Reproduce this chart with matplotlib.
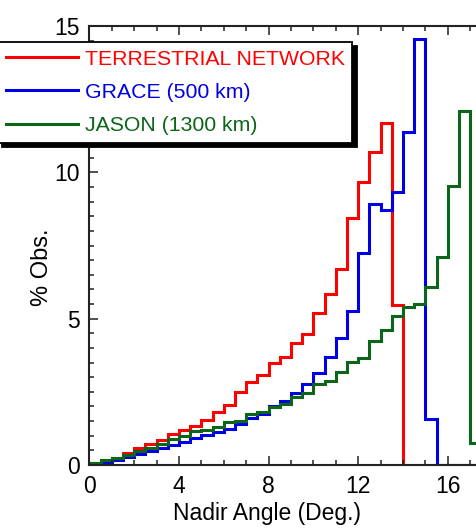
import numpy as np
import matplotlib
matplotlib.use('Agg')
import matplotlib.pyplot as plt
from matplotlib.ticker import MultipleLocator

plt.rcParams['font.family'] = 'Liberation Sans'

# percentage of observations per 0.5 deg nadir-angle bin, starting at 0 deg
bin_width = 0.5
terrestrial = [0.06, 0.15, 0.25, 0.40, 0.57, 0.71, 0.85, 1.07, 1.18, 1.32,
               1.54, 1.80, 2.05, 2.48, 2.85, 3.06, 3.48, 3.69, 4.16, 4.47,
               5.21, 5.83, 6.71, 8.45, 9.67, 10.70, 11.67, 5.48,
               0, 0, 0, 0, 0, 0, 0, 0]
grace = [0.03, 0.10, 0.18, 0.29, 0.39, 0.47, 0.58, 0.68, 0.80, 0.93,
         1.01, 1.13, 1.24, 1.40, 1.62, 1.74, 2.02, 2.19, 2.47, 2.78,
         3.13, 3.68, 4.35, 5.26, 7.23, 8.92, 8.71, 9.33, 11.37, 14.55,
         1.57, 0, 0, 0, 0, 0]
jason = [0.06, 0.16, 0.24, 0.35, 0.49, 0.59, 0.71, 0.88, 0.99, 1.16,
         1.18, 1.30, 1.47, 1.52, 1.74, 1.82, 1.99, 2.08, 2.32, 2.46,
         2.77, 2.88, 3.17, 3.51, 3.67, 4.24, 4.61, 5.10, 5.41, 5.50,
         6.07, 7.10, 9.55, 12.10, 0.76]

series = [
    (terrestrial, '#ff0000', 'TERRESTRIAL NETWORK'),
    (grace, '#0000e6', 'GRACE (500 km)'),
    (jason, '#0b6619', 'JASON (1300 km)'),
]

fig = plt.figure(figsize=(4.77, 5.28), dpi=100)
ax = fig.add_axes([0.1876, 0.1193, 0.8124, 0.8314])

for vals, color, label in series:
    edges = np.arange(len(vals) + 1) * bin_width
    ax.stairs(vals, edges, baseline=None, color=color, linewidth=2.2, label=label)

ax.set_xlim(0, 17.3)
ax.set_ylim(0, 15)
ax.xaxis.set_major_locator(MultipleLocator(4))
ax.xaxis.set_minor_locator(MultipleLocator(1))
ax.yaxis.set_major_locator(MultipleLocator(5))
ax.yaxis.set_minor_locator(MultipleLocator(0.5))

ax.spines['right'].set_visible(False)
for side in ['left', 'bottom', 'top']:
    ax.spines[side].set_linewidth(1.5)
    ax.spines[side].set_color('#222222')

ax.tick_params(which='both', direction='in', top=True, right=False,
               width=1.1, color='#222222', labelsize=16.5, pad=7)
ax.tick_params(which='major', length=6.5)
ax.tick_params(which='minor', length=3.8)

ax.set_xlabel('Nadir Angle (Deg.)', fontsize=16.5)
ax.xaxis.set_label_coords(0.458, -0.084)
ax.set_ylabel('% Obs.', fontsize=17)
ax.yaxis.set_label_coords(-0.095, 0.45)

leg = ax.legend(loc='upper left', bbox_to_anchor=(-0.004, 0.92),
                bbox_transform=fig.transFigure, fontsize=15.3,
                frameon=True, fancybox=False, edgecolor='black', framealpha=1,
                shadow={'color': 'black', 'alpha': 1, 'ox': 3, 'oy': -3},
                borderpad=0.36, handlelength=3.4, handletextpad=0.32,
                labelspacing=0.66, borderaxespad=0)
leg.get_frame().set_linewidth(1.3)
for text, (_, color, _) in zip(leg.get_texts(), series):
    text.set_color(color)
for line in leg.get_lines():
    line.set_linewidth(2.2)

fig.savefig('out.png', dpi=100)
